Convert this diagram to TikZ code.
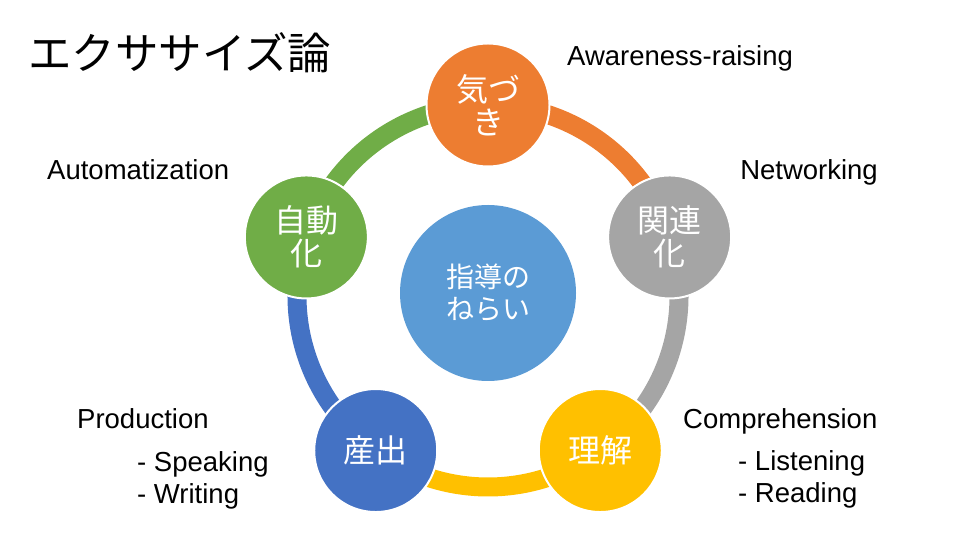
\documentclass[tikz,border=0pt]{standalone}
\usepackage{fontspec}
\setmainfont{Liberation Sans}
\newfontfamily\jp{Noto Sans CJK JP}
\definecolor{cOrange}{HTML}{ED7D31}
\definecolor{cGreen}{HTML}{70AD47}
\definecolor{cGray}{HTML}{A5A5A5}
\definecolor{cYellow}{HTML}{FFC000}
\definecolor{cBlue}{HTML}{4472C4}
\definecolor{cCenter}{HTML}{5B9BD5}
\tikzset{
  cyc/.style={circle, draw=white, line width=2pt, minimum size=123pt, inner sep=0pt,
    text=white, font=\jp\fontsize{32}{33}\selectfont, align=center},
  hub/.style={circle, minimum size=176pt, inner sep=0pt, fill=cCenter,
    text=white, font=\jp\fontsize{28}{32}\selectfont, align=center},
  ringarc/.style={line width=19pt},
  lbl/.style={font=\fontsize{27.5}{33}\selectfont, inner sep=0pt, anchor=base west},
  title/.style={font=\jp\fontsize{43.5}{45}\selectfont, inner sep=0pt, anchor=west}
}
\begin{document}
\begin{tikzpicture}[x=1pt,y=1pt]
\useasboundingbox (0,0) rectangle (960,540);
\coordinate (C) at (488,244);
% positions
\coordinate (pAw) at ([shift={(90:191)}]C);
\coordinate (pNe) at ([shift={(18:191)}]C);
\coordinate (pCo) at ([shift={(-54:191)}]C);
\coordinate (pPr) at ([shift={(-126:191)}]C);
\coordinate (pAu) at ([shift={(162:191)}]C);
% ring arcs
\draw[ringarc, cGreen]  (pAu) arc[start angle=162, end angle=90, radius=191];
\draw[ringarc, cOrange] (pAw) arc[start angle=90, end angle=18, radius=191];
\draw[ringarc, cGray]   (pNe) arc[start angle=18, end angle=-54, radius=191];
\draw[ringarc, cYellow] (pCo) arc[start angle=-54, end angle=-126, radius=191];
\draw[ringarc, cBlue]   (pPr) arc[start angle=-126, end angle=-198, radius=191];
% circles
\node[cyc, fill=cOrange] (aw) at (pAw) {気づ\\き};
\node[cyc, fill=cGray]   (ne) at (pNe) {関連\\化};
\node[cyc, fill=cYellow] (co) at (pCo) {理解};
\node[cyc, fill=cBlue]   (pr) at (pPr) {産出};
\node[cyc, fill=cGreen]  (au) at (pAu) {自動\\化};
\node[hub] (hb) at (488,247) {指導の\\ねらい};
% title
\node[title] (tt) at (28,487) {エクササイズ論};
% labels
\node[lbl] (lAw) at (567,474) {Awareness-raising};
\node[lbl] (lAu) at (47,360) {Automatization};
\node[lbl, anchor=base east] (lNe) at (878,360) {Networking};
\node[lbl] (lPr) at (77,111) {Production};
\node[lbl] (lSp) at (137,68) {- Speaking};
\node[lbl] (lWr) at (137,36) {- Writing};
\node[lbl] (lCo) at (683,111) {Comprehension};
\node[lbl] (lLi) at (738,69) {- Listening};
\node[lbl] (lRe) at (738,37) {- Reading};
\end{tikzpicture}
\end{document}
